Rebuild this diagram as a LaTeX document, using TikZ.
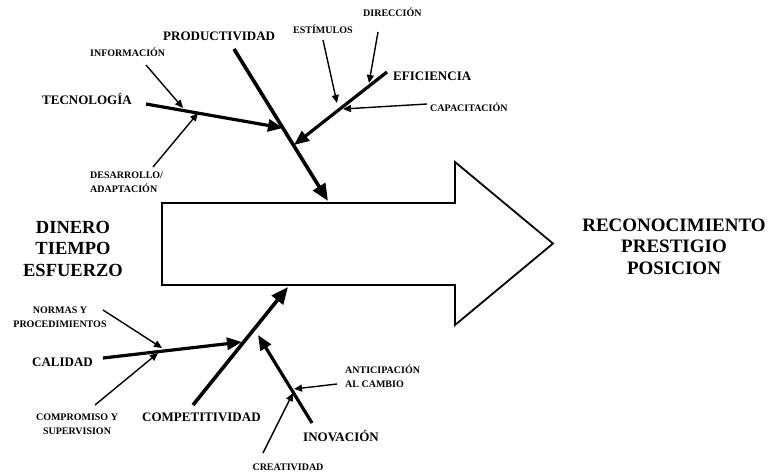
\documentclass[tikz,border=0pt]{standalone}
\usepackage{fontspec}
\setmainfont{Liberation Serif}
\usetikzlibrary{arrows.meta}
\begin{document}
\begin{tikzpicture}[x=1pt,y=-1pt,
  bigtxt/.style={font=\fontsize{13}{15}\selectfont\bfseries, inner sep=0pt},
  smalltxt/.style={font=\fontsize{10}{14}\selectfont\bfseries, inner sep=0pt},
  goaltxt/.style={font=\fontsize{18.5}{21.5}\selectfont\bfseries, inner sep=0pt, align=center},
  mainbranch/.style={line width=3.6pt, -{Triangle[length=17pt,width=14pt]}},
  branch/.style={line width=3.2pt, -{Triangle[length=15pt,width=12pt]}},
  twig/.style={line width=1.4pt, -{Triangle[length=8pt,width=7pt]}},
  outline/.style={line width=1.8pt, line join=miter}
]
\useasboundingbox (0,0) rectangle (769,475);

% the large process arrow
\draw[outline] (162,203) -- (455,203) -- (455,162) -- (553,243.5)
  -- (455,325) -- (455,285) -- (162,285) -- cycle;

% inputs and outcomes
\node[goaltxt, anchor=north] (inputs) at (73,220.9) {DINERO\\TIEMPO\\ESFUERZO};
\node[goaltxt, anchor=north, font=\fontsize{19}{21.5}\selectfont\bfseries] (outcomes) at (674,218.7) {RECONOCIMIENTO\\PRESTIGIO\\POSICION};

% upper labels
\node[bigtxt, anchor=base west] (prod) at (163,40) {PRODUCTIVIDAD};
\node[bigtxt, anchor=base west] (tec) at (42,104.3) {TECNOLOGÍA};
\node[bigtxt, anchor=base west] (efi) at (393,80) {EFICIENCIA};
\node[smalltxt, anchor=base west] (inf) at (90,56.3) {INFORMACIÓN};
\node[smalltxt, anchor=north west, align=left] (des) at (90,171.7) {DESARROLLO/\\ADAPTACIÓN};
\node[smalltxt, anchor=base west] (est) at (293,33.3) {ESTÍMULOS};
\node[smalltxt, anchor=base west] (dir) at (363,16.3) {DIRECCIÓN};
\node[smalltxt, anchor=base west] (cap) at (430,111.3) {CAPACITACIÓN};

% lower labels
\node[bigtxt, anchor=base west] (cal) at (32,366) {CALIDAD};
\node[bigtxt, anchor=base west] (comp) at (142,421) {COMPETITIVIDAD};
\node[bigtxt, anchor=base west] (ino) at (303,441) {INOVACIÓN};
\node[smalltxt, anchor=north, align=center] (nor) at (60,306.7) {NORMAS Y\\PROCEDIMIENTOS};
\node[smalltxt, anchor=north, align=center] (com) at (77,413.7) {COMPROMISO Y\\SUPERVISION};
\node[smalltxt, anchor=north west, align=left] (ant) at (345,366.7) {ANTICIPACI\smash{Ó}N\\AL CAMBIO};
\node[smalltxt, anchor=base] (cre) at (288,470.3) {CREATIVIDAD};

% end points of the branches
\coordinate (prodS) at (234,49);   \coordinate (prodE) at (328,201);
\coordinate (tecS)  at (146,104);  \coordinate (tecE)  at (283,128);
\coordinate (infS)  at (146,65);   \coordinate (infE)  at (183,108);
\coordinate (desS)  at (153,167);  \coordinate (desE)  at (198,113);
\coordinate (efiS)  at (387,72);   \coordinate (efiE)  at (294,145);
\coordinate (dirS)  at (378,32);   \coordinate (dirE)  at (369,83);
\coordinate (estS)  at (323,40);   \coordinate (estE)  at (337,103);
\coordinate (capS)  at (427,104);  \coordinate (capE)  at (343,109);

\coordinate (compS) at (193,405);  \coordinate (compE) at (288,287);
\coordinate (calS)  at (103,358);  \coordinate (calE)  at (242,342);
\coordinate (norS)  at (103,310);  \coordinate (norE)  at (162,348);
\coordinate (comS)  at (95,405);   \coordinate (comE)  at (158,353);
\coordinate (inoS)  at (312,423);  \coordinate (inoE)  at (258,335);
\coordinate (antS)  at (337,384);  \coordinate (antE)  at (294,389);
\coordinate (creS)  at (263,453);  \coordinate (creE)  at (293,393);

% upper fishbone
\draw[mainbranch] (prodS) -- (prodE);
\draw[branch] (tecS) -- (tecE);
\draw[branch] (efiS) -- (efiE);
\draw[twig] (infS) -- (infE);
\draw[twig] (desS) -- (desE);
\draw[twig] (dirS) -- (dirE);
\draw[twig] (estS) -- (estE);
\draw[twig] (capS) -- (capE);

% lower fishbone
\draw[mainbranch] (compS) -- (compE);
\draw[branch] (calS) -- (calE);
\draw[branch] (inoS) -- (inoE);
\draw[twig] (norS) -- (norE);
\draw[twig] (comS) -- (comE);
\draw[twig] (antS) -- (antE);
\draw[twig] (creS) -- (creE);
\end{tikzpicture}
\end{document}
